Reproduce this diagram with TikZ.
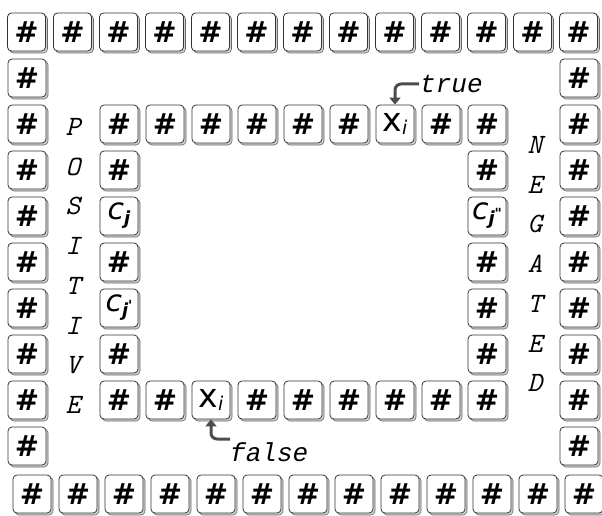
\documentclass[tikz,border=0pt]{standalone}
\usepackage{fontspec}
\usetikzlibrary{shadows,arrows.meta}
\newfontfamily\djv{DejaVu Sans}
\newfontfamily\lmono{Liberation Mono}
\newcommand{\hs}{{\djv\bfseries\fontsize{29}{29}\selectfont\#}}
\newcommand{\xvar}{{\djv\fontsize{33}{33}\selectfont x}\raisebox{-3pt}{\djv\itshape\fontsize{19}{19}\selectfont i}}
\newcommand{\cvar}[1]{{\djv\itshape\fontsize{30}{30}\selectfont c}\raisebox{-5pt}{\djv\bfseries\itshape\fontsize{18}{18}\selectfont j}\raisebox{1pt}{\djv\bfseries\fontsize{14}{14}\selectfont #1}}
\tikzset{
  tile/.style={draw=black!80, fill=white, line width=0.8pt, rounded corners=4pt,
    minimum width=38pt, minimum height=38pt, inner sep=0pt,
    copy shadow={shadow xshift=2pt, shadow yshift=-2pt, fill=gray!35, draw=black!60, line width=0.6pt}},
  letter/.style={font=\ttfamily\itshape\fontsize{28}{28}\selectfont, inner sep=0pt},
  lab/.style={font=\lmono\itshape\fontsize{26}{26}\selectfont, inner sep=1pt},
  arr/.style={line width=3pt, draw=black!70, rounded corners=6pt, -{Triangle[width=11pt,length=7pt]}}
}
\begin{document}
\begin{tikzpicture}[x=1pt,y=-1pt]
\useasboundingbox (0,0) rectangle (602,516);
% outer frame
\foreach \k in {0,...,12} \node[tile] (t\k) at (26.5+46*\k,32) {\hs};
\foreach \k in {1,...,9} \node[tile] (l\k) at (27,32+46*\k) {\hs};
\foreach \k in {1,...,9} \node[tile] (r\k) at (579,32+46*\k) {\hs};
\foreach \k in {0,...,12} \node[tile] (b\k) at (32+46*\k,494) {\hs};
% inner frame top row
\foreach \k in {0,...,5,7,8} \node[tile] (it\k) at (119+46*\k,124) {\hs};
\node[tile] (xt) at (395,124) {\xvar};
% inner bottom row
\foreach \k in {0,1,3,4,5,6,7,8} \node[tile] (ib\k) at (119+46*\k,400) {\hs};
\node[tile] (xb) at (211,400) {\xvar};
% inner left column
\node[tile] (il1) at (119,170) {\hs};
\node[tile] (il2) at (119,216) {\cvar{}};
\node[tile] (il3) at (119,262) {\hs};
\node[tile] (il4) at (119,308) {\cvar{'}};
\node[tile] (il5) at (119,354) {\hs};
% inner right column
\node[tile] (ir1) at (487,170) {\hs};
\node[tile] (ir2) at (487,216) {\cvar{"}};
\node[tile] (ir3) at (487,262) {\hs};
\node[tile] (ir4) at (487,308) {\hs};
\node[tile] (ir5) at (487,354) {\hs};
% side words
\foreach \c [count=\i from 0] in {P,O,S,I,T,I,V,E}
  \node[letter] (pos\i) at (73,127+39.7*\i) {\c};
\foreach \c [count=\i from 0] in {N,E,G,A,T,E,D}
  \node[letter] (neg\i) at (535,145+39.7*\i) {\c};
% labels
\node[lab, anchor=west] (true) at (419,84) {true};
\node[lab, anchor=west] (false) at (229,452) {false};
\draw[arr] (true.west) -| (xt.north);
\coordinate (fs) at (230,439);
\draw[arr] (fs) -| (xb.south);
\end{tikzpicture}
\end{document}
